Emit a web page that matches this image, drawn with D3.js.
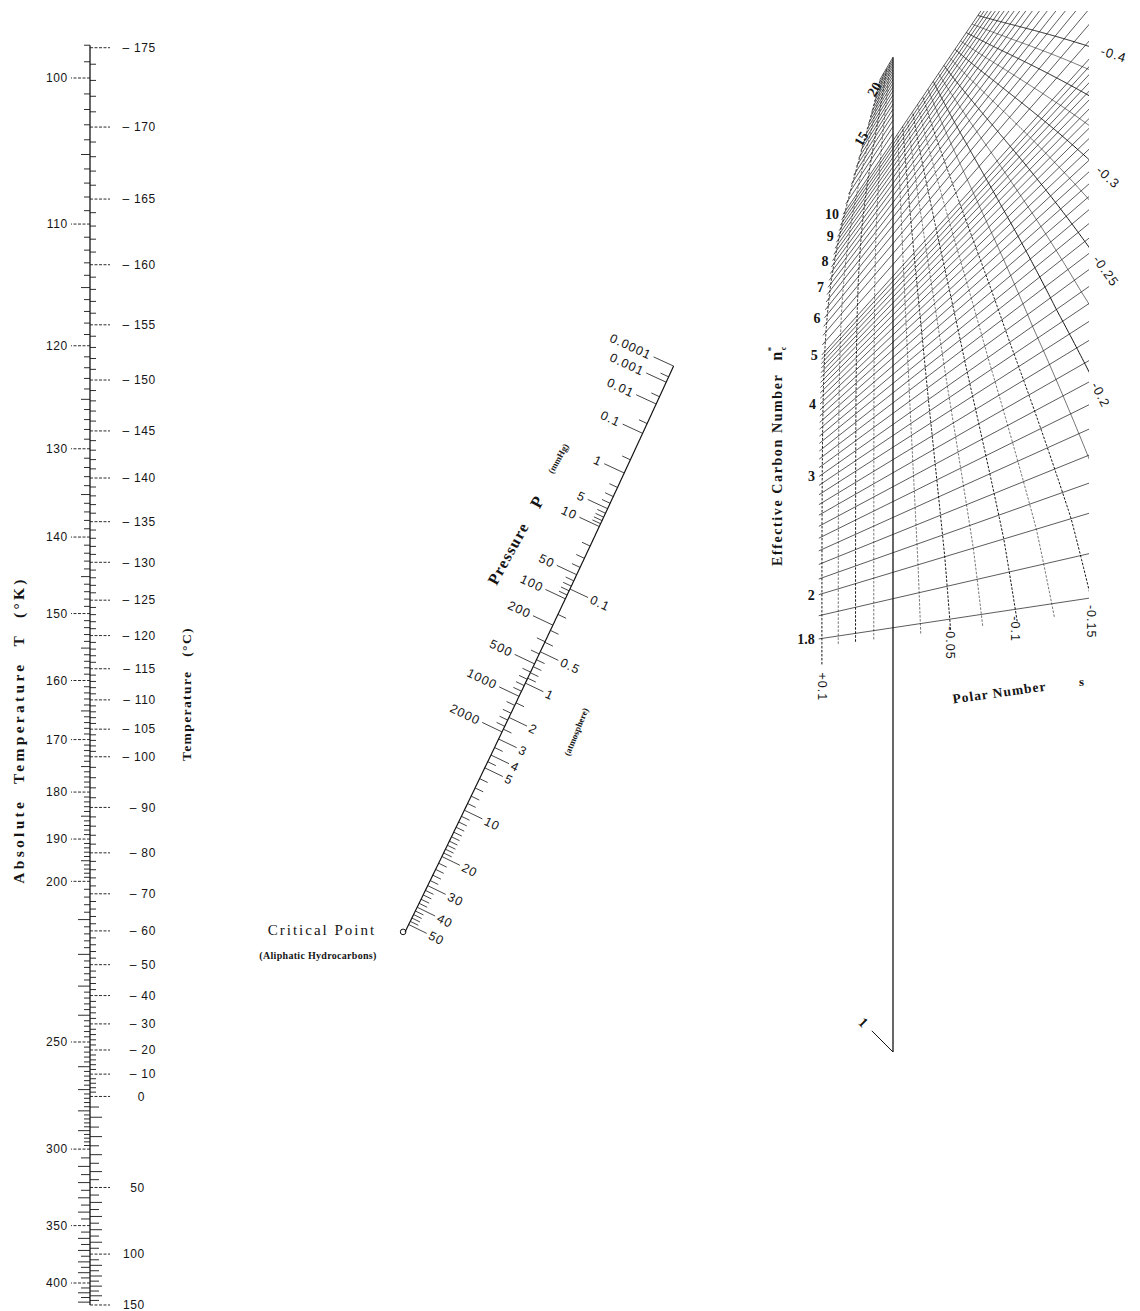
<!DOCTYPE html>
<html>
<head>
<meta charset="utf-8">
<script src="https://cdn.jsdelivr.net/npm/d3@7"></script>
<style>
  body { margin: 0; background: #fff; }
  svg { display: block; }
  text { fill: #151515; }
  .num { font-family: "Liberation Sans", "DejaVu Sans", sans-serif; font-size: 12px; letter-spacing: 0.7px; }
  .pnum { font-family: "Liberation Sans", "DejaVu Sans", sans-serif; font-size: 12.5px; letter-spacing: 1px; }
  .snum { font-family: "Liberation Serif", "DejaVu Serif", serif; font-size: 14px; font-weight: bold; }
  .title { font-family: "Liberation Serif", "DejaVu Serif", serif; font-weight: bold; }
</style>
</head>
<body>
<script>
var w = 1140;
var h = 1311;
var ink = "#151515";

// Temperature scale labels
var kelvinLabels = [100, 110, 120, 130, 140, 150, 160, 170, 180, 190, 200, 250, 300, 350, 400];
var celsiusLabels = [-175, -170, -165, -160, -155, -150, -145, -140, -135, -130, -125, -120, -115, -110, -105, -100,
                     -90, -80, -70, -60, -50, -40, -30, -20, -10, 0, 50, 100, 150];

// Pressure scale labels
var mmHgLabels = [0.0001, 0.001, 0.01, 0.1, 1, 5, 10, 50, 100, 200, 500, 1000, 2000];
var atmLabels = [0.1, 0.5, 1, 2, 3, 4, 5, 10, 20, 30, 40, 50];

// Normal boiling points of n-alkanes (K), used to place the carbon number lines
var alkaneN = [1, 2, 3, 4, 5, 6, 7, 8, 9, 10, 12, 15, 20, 25];
var alkaneTb = [111.7, 184.6, 231.1, 272.7, 309.2, 341.9, 371.6, 398.8, 424.0, 447.3, 489.5, 543.8, 616.9, 675.0];

// Net labels
var carbonLabels = [1.8, 2, 3, 4, 5, 6, 7, 8, 9, 10, 15, 20];
var polarBottom = [0.1, -0.05, -0.1, -0.15];
var polarRight = [-0.2, -0.25, -0.3, -0.4];

var svg = d3.select("body")
            .append("svg")
            .attr("width", w)
            .attr("height", h);

// ---------------- temperature scale (linear in 1/T) ----------------
var xT = 90;
var tY = d3.scaleLinear().domain([1 / 100, 1 / 400]).range([78, 1283]);
function tPos(T) { return tY(1 / T); }
var tMin = 98.0, tMax = 423.15;

var tempG = svg.append("g").attr("stroke", ink);

tempG.append("line")
     .attr("x1", xT).attr("x2", xT)
     .attr("y1", tPos(tMin)).attr("y2", tPos(tMax))
     .attr("stroke-width", 1.3);

var kMinor = d3.range(98, 200).concat(d3.range(200, 300, 2), d3.range(300, 424, 5))
               .filter(function(t) { return kelvinLabels.indexOf(t) < 0; });

tempG.selectAll(".kt")
     .data(kMinor)
     .enter()
     .append("line")
     .attr("x1", xT)
     .attr("x2", function(d) { return xT - (d % 10 === 0 ? 12 : d % 5 === 0 ? 9 : 6); })
     .attr("y1", function(d) { return tPos(d); })
     .attr("y2", function(d) { return tPos(d); })
     .attr("stroke-width", 0.9);

var cMinor = d3.range(-175, -100).concat(d3.range(-100, 0, 2), d3.range(0, 151, 5))
               .filter(function(c) { return celsiusLabels.indexOf(c) < 0; });

tempG.selectAll(".ct")
     .data(cMinor)
     .enter()
     .append("line")
     .attr("x1", xT)
     .attr("x2", function(d) { return xT + (d % 10 === 0 ? 12 : d % 5 === 0 ? 9 : 6); })
     .attr("y1", function(d) { return tPos(d + 273.15); })
     .attr("y2", function(d) { return tPos(d + 273.15); })
     .attr("stroke-width", 0.9);

var kGroups = tempG.selectAll(".kl")
                   .data(kelvinLabels)
                   .enter()
                   .append("g")
                   .attr("transform", function(d) { return "translate(0," + tPos(d) + ")"; });
kGroups.append("line")
       .attr("x1", xT).attr("x2", xT - 19)
       .attr("stroke-width", 0.9)
       .attr("stroke-dasharray", "3,1.5");
kGroups.append("text")
       .attr("class", "num")
       .attr("stroke", "none")
       .attr("x", xT - 22)
       .attr("dy", "0.35em")
       .attr("text-anchor", "end")
       .text(function(d) { return d; });

var cGroups = tempG.selectAll(".cl")
                   .data(celsiusLabels)
                   .enter()
                   .append("g")
                   .attr("transform", function(d) { return "translate(0," + tPos(d + 273.15) + ")"; });
cGroups.append("line")
       .attr("x1", xT).attr("x2", xT + 20)
       .attr("stroke-width", 0.9)
       .attr("stroke-dasharray", "3,1.5");
cGroups.append("text")
       .attr("class", "num")
       .attr("stroke", "none")
       .attr("x", function(d) { return d < 0 ? 156 : 145; })
       .attr("text-anchor", "end")
       .attr("dy", "0.35em")
       .text(function(d) { return d < 0 ? "\u2013 " + (-d) : String(d); });

svg.append("text")
   .attr("class", "title")
   .attr("transform", "translate(24,730) rotate(-90)")
   .attr("text-anchor", "middle")
   .style("font-size", "15.5px")
   .style("letter-spacing", "3.3px")
   .style("word-spacing", "8px")
   .text("Absolute Temperature T (\u00b0K)");

svg.append("text")
   .attr("class", "title")
   .attr("transform", "translate(191,694) rotate(-90)")
   .attr("text-anchor", "middle")
   .style("font-size", "13.5px")
   .style("letter-spacing", "1.4px")
   .style("word-spacing", "9px")
   .text("Temperature (\u00b0C)");

// ---------------- pressure scale (curved) ----------------
var pY = d3.scalePow().exponent(0.1303).domain([0, 1]).range([320, 473]);
function pPos(P) {
    var y = pY(P), u = y - 363;
    return [675 - 0.4585 * u - 2.8e-5 * u * u, y];
}
function pNormal(P) {
    var u = pY(P) - 363;
    var tx = -0.4585 - 5.6e-5 * u, ty = 1, L = Math.hypot(tx, ty);
    return [ty / L, -tx / L];   // points right and down
}

var presG = svg.append("g").attr("stroke", ink);

var curve = d3.range(-4, 4.621, 0.02).map(function(lp) { return pPos(Math.pow(10, lp)); });
presG.append("path")
     .attr("d", d3.line()(curve))
     .attr("fill", "none")
     .attr("stroke-width", 1.2);

function drawPTicks(values, len, side, cls) {
    presG.selectAll("." + cls)
         .data(values)
         .enter()
         .append("line")
         .attr("x1", function(d) { return pPos(d)[0]; })
         .attr("y1", function(d) { return pPos(d)[1]; })
         .attr("x2", function(d) { return pPos(d)[0] + side * pNormal(d)[0] * len; })
         .attr("y2", function(d) { return pPos(d)[1] + side * pNormal(d)[1] * len; })
         .attr("stroke-width", 0.8);
}

var mmHgMinor = [0.0005, 0.005, 0.05, 0.5];
[1, 10, 100].forEach(function(dec) {
    d3.range(2, 10).forEach(function(m) { mmHgMinor.push(m * dec); });
});
mmHgMinor = mmHgMinor.concat([1200, 1400, 1600, 1800])
                     .filter(function(v) { return mmHgLabels.indexOf(v) < 0; });

var atmMinor = d3.range(2, 10).map(function(v) { return v / 10; })
    .concat([1.5, 2.5, 3.5, 4.5], d3.range(6, 20), d3.range(22, 50, 2))
    .filter(function(v) { return atmLabels.indexOf(v) < 0; });

drawPTicks(mmHgMinor, 9, -1, "pm");
drawPTicks(mmHgLabels, 22, -1, "pl");
drawPTicks(atmMinor.map(function(a) { return a * 760; }), 9, 1, "am");
drawPTicks(atmLabels.map(function(a) { return a * 760; }), 20, 1, "al");

function angleAt(P) {
    var nr = pNormal(P);
    return Math.atan2(nr[1], nr[0]) * 180 / Math.PI;
}

presG.selectAll(".plt")
     .data(mmHgLabels)
     .enter()
     .append("text")
     .attr("class", "pnum")
     .attr("stroke", "none")
     .attr("text-anchor", "end")
     .attr("dy", "0.35em")
     .attr("transform", function(d) {
         var p = pPos(d), nr = pNormal(d);
         return "translate(" + (p[0] - nr[0] * 25) + "," + (p[1] - nr[1] * 25) + ") rotate(" + angleAt(d) + ")";
     })
     .text(function(d) { return d; });

presG.selectAll(".alt")
     .data(atmLabels)
     .enter()
     .append("text")
     .attr("class", "pnum")
     .attr("stroke", "none")
     .attr("dy", "0.35em")
     .attr("transform", function(d) {
         var P = d * 760, p = pPos(P), nr = pNormal(P);
         return "translate(" + (p[0] + nr[0] * 23) + "," + (p[1] + nr[1] * 23) + ") rotate(" + angleAt(P) + ")";
     })
     .text(function(d) { return d; });

// critical point mark at the end of the scale
var crit = pPos(Math.pow(10, 4.62));
presG.append("circle")
     .attr("cx", crit[0] - 2).attr("cy", crit[1])
     .attr("r", 2.8)
     .attr("fill", "none")
     .attr("stroke-width", 1);

svg.append("text").attr("class", "title")
   .attr("transform", "translate(513,556) rotate(-61)")
   .attr("text-anchor", "middle")
   .style("font-size", "16px").style("letter-spacing", "1.2px")
   .text("Pressure");
svg.append("text").attr("class", "title")
   .attr("transform", "translate(542,505) rotate(-61)")
   .attr("text-anchor", "middle")
   .style("font-size", "17px")
   .text("P");
svg.append("text").attr("class", "title")
   .attr("transform", "translate(561,460) rotate(-61)")
   .attr("text-anchor", "middle")
   .style("font-size", "9px")
   .text("(mmHg)");
svg.append("text").attr("class", "title")
   .attr("transform", "translate(579,733) rotate(-68)")
   .attr("text-anchor", "middle")
   .style("font-size", "9px")
   .text("(atmosphere)");

svg.append("text")
   .attr("x", 322).attr("y", 935)
   .attr("text-anchor", "middle")
   .style("font-family", "\"Liberation Serif\", serif")
   .style("font-size", "15px").style("letter-spacing", "2px")
   .text("Critical Point");
svg.append("text")
   .attr("x", 318).attr("y", 959)
   .attr("text-anchor", "middle")
   .style("font-family", "\"Liberation Serif\", serif")
   .style("font-size", "10px").style("font-weight", "bold").style("letter-spacing", "0.3px")
   .text("(Aliphatic Hydrocarbons)");

// ---------------- carbon number / polar number net ----------------
var tbScale = d3.scaleLinear()
                .domain(alkaneN.map(function(n) { return Math.pow(n, 2 / 3); }))
                .range(alkaneTb.map(function(t) { return Math.log(1071.28 - t); }));
function boilingPoint(n) { return 1071.28 - Math.exp(tbScale(Math.pow(n, 2 / 3))); }

var C = pPos(760);      // every carbon number line runs through 1 atm
var xZero = 893;        // the s = 0 line
var nPolarMax = 10;     // negative s part of the net stops at n = 10
function nSlope(n) {
    var yt = tPos(boilingPoint(n));
    return (C[1] - yt) / (C[0] - xT);
}
function net(n, s) {
    var k = s > 0 ? 2.15 / (1 + Math.pow((n - 1) / 11, 3)) : 10.4 / Math.pow(n + 1, 1.25);
    var d = (xZero - C[0]) * Math.exp(-s * k);
    return [C[0] + d, C[1] + nSlope(n) * d];
}

svg.append("clipPath").attr("id", "netClip")
   .append("rect")
   .attr("x", 760).attr("y", 11)
   .attr("width", 1089 - 760).attr("height", 700);

var netG = svg.append("g").attr("clip-path", "url(#netClip)").attr("stroke", ink);

var nGrid = d3.range(18, 30).map(function(v) { return v / 10; })
    .concat(d3.range(30, 50).map(function(v) { return v / 10; }),
            d3.range(20, 40).map(function(v) { return v / 4; }),
            d3.range(20, 41).map(function(v) { return v / 2; }));

netG.selectAll(".nl")
    .data(nGrid)
    .enter()
    .append("line")
    .attr("x1", function(n) { return net(n, 0.105)[0]; })
    .attr("y1", function(n) { return net(n, 0.105)[1]; })
    .attr("x2", function(n) { return net(n, n <= nPolarMax + 1e-6 ? -0.45 : 0)[0]; })
    .attr("y2", function(n) { return net(n, n <= nPolarMax + 1e-6 ? -0.45 : 0)[1]; })
    .attr("stroke-width", 0.7);

var sGrid = d3.range(-16, 5).map(function(v) { return Math.round(v * 25) / 1000; })
              .filter(function(s) { return s !== 0; });

netG.selectAll(".sl")
    .data(sGrid)
    .enter()
    .append("path")
    .attr("d", function(s) {
        var start = s > 0.09 ? 1.7 : 1.77;
        var end = s > 0 ? 20 : nPolarMax;
        return d3.line()(d3.range(start, end + 0.001, 0.02).map(function(n) { return net(n, s); }));
    })
    .attr("fill", "none")
    .attr("stroke-width", function(s) { return Math.abs(Math.round(s * 1000) % 50) === 0 ? 1.0 : 0.6; })
    .attr("stroke-dasharray", function(s) { return s >= -0.15 ? "2.5,1.5" : null; });

// s = 0 line runs down to n = 1
svg.append("line")
   .attr("x1", xZero).attr("x2", xZero)
   .attr("y1", net(20, 0)[1]).attr("y2", net(1, 0)[1])
   .attr("stroke", ink).attr("stroke-width", 1.3);

// n = 1 tick
var p1 = net(1, 0);
var u1 = [C[0] - p1[0], C[1] - p1[1]];
var l1 = Math.hypot(u1[0], u1[1]);
u1 = [u1[0] / l1, u1[1] / l1];
svg.append("line")
   .attr("x1", p1[0]).attr("y1", p1[1])
   .attr("x2", p1[0] + u1[0] * 30).attr("y2", p1[1] + u1[1] * 30)
   .attr("stroke", ink).attr("stroke-width", 1);
svg.append("text")
   .attr("class", "snum")
   .attr("text-anchor", "middle")
   .attr("dy", "0.35em")
   .attr("transform", "translate(" + (p1[0] + u1[0] * 42) + "," + (p1[1] + u1[1] * 42) + ") rotate(" +
         (Math.atan2(u1[1], u1[0]) * 180 / Math.PI + 180) + ")")
   .text("1");

// carbon number labels at the left ends
svg.selectAll(".nlab")
   .data(carbonLabels)
   .enter()
   .append("text")
   .attr("class", "snum")
   .attr("text-anchor", "end")
   .attr("dy", "0.35em")
   .attr("transform", function(n) {
       var p = net(n, 0.105);
       if (n > 10) {
           var a = Math.atan(nSlope(n)) * 180 / Math.PI;
           var ux = -Math.cos(a * Math.PI / 180), uy = -Math.sin(a * Math.PI / 180);
           return "translate(" + (p[0] + ux * 4) + "," + (p[1] + uy * 4) + ") rotate(" + a + ")";
       }
       return "translate(" + (p[0] - 4) + "," + p[1] + ")";
   })
   .text(function(n) { return n; });

function fmtS(s) { return (s > 0 ? "+" : "-") + Math.abs(s); }

svg.selectAll(".sbot")
   .data(polarBottom)
   .enter()
   .append("text")
   .attr("class", "pnum")
   .attr("transform", function(s) {
       var p = s > 0 ? net(1.7, s) : net(1.8, s);
       return "translate(" + (p[0] - 4) + "," + (p[1] + (s > 0 ? 8 : 7)) + ") rotate(90)";
   })
   .text(fmtS);

svg.selectAll(".sright")
   .data(polarRight)
   .enter()
   .append("text")
   .attr("class", "pnum")
   .style("font-size", "13px")
   .attr("dy", "0.35em")
   .attr("transform", function(s) {
       var n = 1.8;
       while (net(n, s)[0] > 1089 && n < 20) { n += 0.01; }
       var p = net(n, s), q = net(n - 0.05, s);
       var dx = q[0] - p[0], dy = q[1] - p[1], L = Math.hypot(dx, dy);
       dx /= L; dy /= L;
       var a = Math.atan2(dy, dx) * 180 / Math.PI;
       return "translate(" + (p[0] + dx * 13) + "," + (p[1] + dy * 13) + ") rotate(" + a + ")";
   })
   .text(fmtS);

var ecn = svg.append("text")
             .attr("class", "title")
             .attr("transform", "translate(782,566) rotate(-90)")
             .style("font-size", "14px")
             .style("letter-spacing", "1.6px");
ecn.append("tspan").text("Effective Carbon Number ");
ecn.append("tspan").attr("dx", 8).style("font-size", "16px").text("n");
ecn.append("tspan").attr("dy", 4).style("font-size", "8px").text("c");
ecn.append("tspan").attr("dx", -6).attr("dy", -12).style("font-size", "9px").text("*");

svg.append("text")
   .attr("class", "title")
   .attr("transform", "translate(1000,697) rotate(-8)")
   .attr("text-anchor", "middle")
   .style("font-size", "13.5px").style("letter-spacing", "1px")
   .text("Polar Number");
svg.append("text")
   .attr("class", "title")
   .attr("x", 1079).attr("y", 686)
   .style("font-size", "13px")
   .text("s");
</script>
</body>
</html>
